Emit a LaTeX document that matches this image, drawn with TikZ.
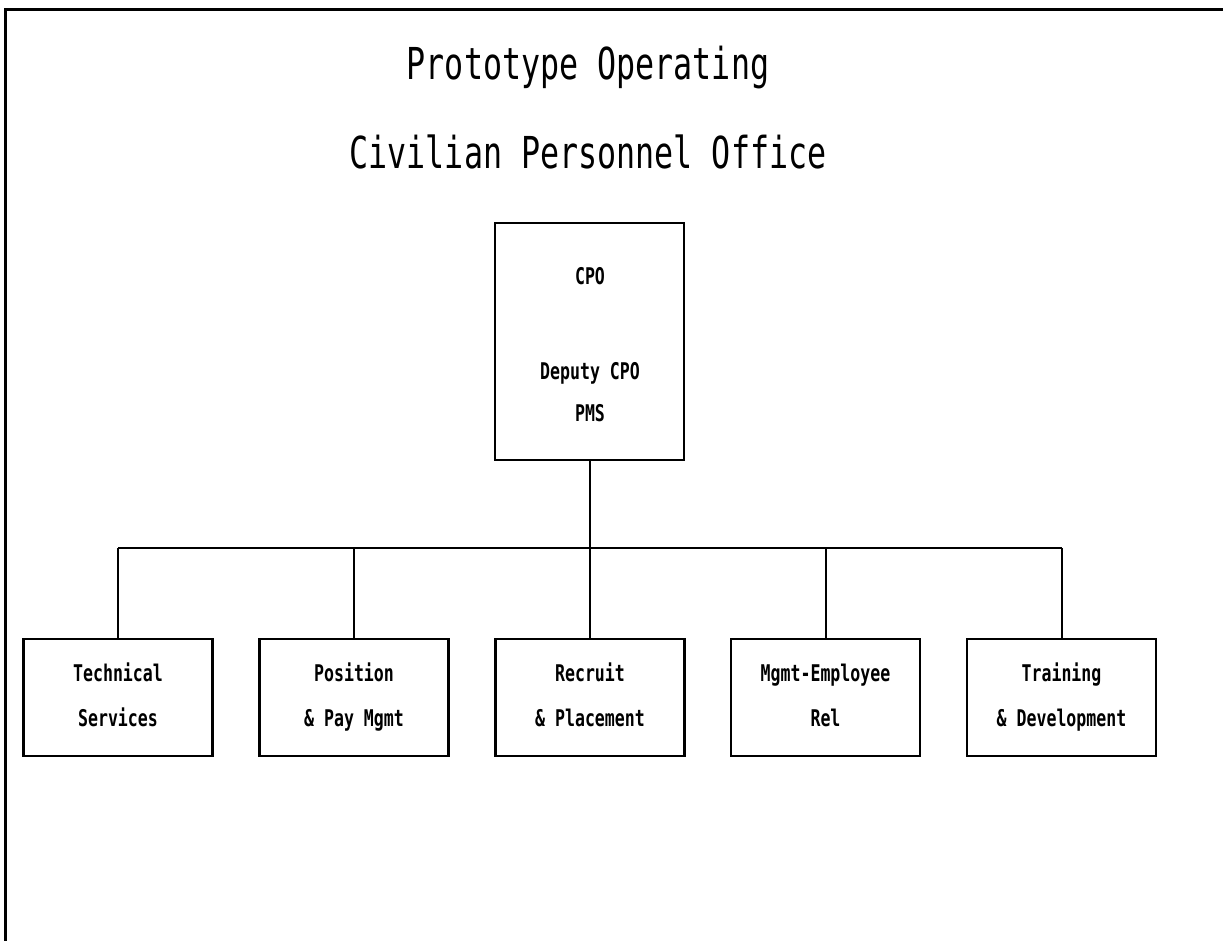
\documentclass[tikz,border=0pt]{standalone}
\usepackage{fontspec}
\newfontfamily\plotfont{DejaVu Sans Mono}[FakeStretch=0.72]
\newcommand\evenline[1]{#1\vphantom{Tgy}}
\begin{document}
\begin{tikzpicture}[x=1pt,y=-1pt,
  frame/.style={line width=3pt},
  orgbox/.style={draw, line width=2.4pt, minimum width=189pt, minimum height=117pt, inner sep=0pt,
    align=center, font=\plotfont\bfseries\fontsize{23}{45}\selectfont},
  boxlabel/.style={inner sep=0pt, font=\plotfont\bfseries\fontsize{23}{26}\selectfont},
  titletext/.style={inner sep=0pt, font=\plotfont\fontsize{44}{50}\selectfont},
  link/.style={line width=2pt}]
\useasboundingbox (0,0) rectangle (1223,941);
\fill[white] (0,0) rectangle (1223,941);
% frame (top and left edges only)
\draw[frame] (1223,10) -- (5,10) -- (5,941);
% title
\node[titletext] (t1) at (588,68) {Prototype Operating};
\node[titletext] (t2) at (588,152) {Civilian Personnel Office};
% top box
\node[draw, line width=2.4pt, minimum width=189pt, minimum height=237pt, inner sep=0pt] (cpo) at (589.5,341.5) {};
\node[boxlabel] (cpoa) at (590,278) {\evenline{CPO}};
\node[boxlabel] (cpob) at (590,373) {\evenline{Deputy CPO}};
\node[boxlabel] (cpoc) at (590,415) {\evenline{PMS}};
% bottom boxes
\node[orgbox] (b1) at (118,697.5) {\evenline{Technical}\\\evenline{Services}};
\node[orgbox] (b2) at (354,697.5) {\evenline{Position}\\\evenline{\& Pay Mgmt}};
\node[orgbox] (b3) at (590,697.5) {\evenline{Recruit}\\\evenline{\& Placement}};
\node[orgbox] (b4) at (825.5,697.5) {\evenline{Mgmt-Employee}\\\evenline{Rel}};
\node[orgbox] (b5) at (1061.5,697.5) {\evenline{Training}\\\evenline{\& Development}};
% bus
\coordinate (busL) at (118,548);
\coordinate (busR) at (1061.5,548);
\draw[link] (busL) -- (busR);
\draw[link] (cpo.south) -- (cpo.south |- busL);
\foreach \b in {b1,b2,b3,b4,b5}
  \draw[link] (\b.north) -- (\b.north |- busL);
\end{tikzpicture}
\end{document}
